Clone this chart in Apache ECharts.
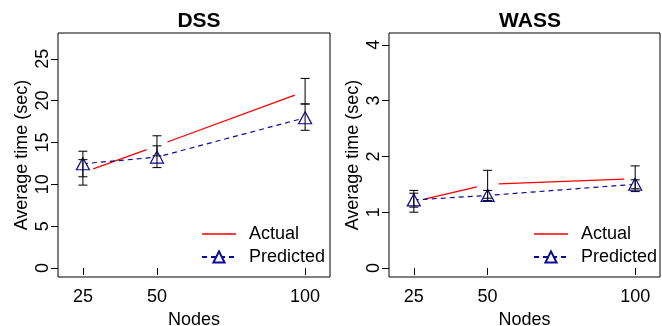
<!DOCTYPE html>
<html>
<head>
<meta charset="utf-8">
<script src="https://cdn.jsdelivr.net/npm/echarts@6/dist/echarts.min.js"></script>
<style>
  html, body { margin: 0; padding: 0; background: #fff; }
  #chart { width: 662px; height: 326px; }
</style>
</head>
<body>
<div id="chart"></div>
<script>
// data
const nodes = [25, 50, 100];

const dssActual = [11.4, 14.6, 21.1];
const dssActualLow = [9.9, 13.4, 19.6];
const dssActualHigh = [12.95, 15.8, 22.65];
const dssPred = [12.45, 13.25, 17.95];
const dssPredLow = [10.9, 12.0, 16.45];
const dssPredHigh = [13.95, 14.6, 19.6];

const wassActual = [1.19, 1.5, 1.6];
const wassActualLow = [1.0, 1.25, 1.37];
const wassActualHigh = [1.39, 1.75, 1.83];
const wassPred = [1.22, 1.3, 1.5];
const wassPredLow = [1.09, 1.21, 1.42];
const wassPredHigh = [1.34, 1.39, 1.58];

const dssTicks = [0, 5, 10, 15, 20, 25];
const wassTicks = [0, 1, 2, 3, 4];

const FONT = "'Liberation Sans', Arial, sans-serif";
const RED = "#ff0000";
const NAVY = "#0a0a9a";

const chart = echarts.init(document.getElementById("chart"), null, { renderer: "canvas" });

// segments of the actual line, stopping short of each point (like R type "b")
function gapLine(name, values, idx) {
    const pairs = nodes.slice(0, -1).map((x, i) => [x, values[i], nodes[i + 1], values[i + 1]]);
    return {
        name: name,
        type: "custom",
        xAxisIndex: idx,
        yAxisIndex: idx,
        z: 2,
        itemStyle: { color: RED },
        data: pairs,
        renderItem: function (params, api) {
            const a = api.coord([api.value(0), api.value(1)]);
            const b = api.coord([api.value(2), api.value(3)]);
            const dx = b[0] - a[0], dy = b[1] - a[1];
            const len = Math.sqrt(dx * dx + dy * dy);
            const gap = 11;
            const ux = dx / len, uy = dy / len;
            return {
                type: "line",
                shape: { x1: a[0] + ux * gap, y1: a[1] + uy * gap, x2: b[0] - ux * gap, y2: b[1] - uy * gap },
                style: { stroke: RED, lineWidth: 1.3 },
            };
        },
    };
}

function errorBars(low, high, idx) {
    return {
        type: "custom",
        xAxisIndex: idx,
        yAxisIndex: idx,
        z: 5,
        silent: true,
        data: nodes.map((x, i) => [x, low[i], high[i]]),
        renderItem: function (params, api) {
            const x = api.value(0);
            const lo = api.coord([x, api.value(1)]);
            const hi = api.coord([x, api.value(2)]);
            const w = 4.5;
            const st = { stroke: "#111", lineWidth: 1.1 };
            return {
                type: "group",
                children: [
                    { type: "line", shape: { x1: lo[0], y1: lo[1], x2: hi[0], y2: hi[1] }, style: st },
                    { type: "line", shape: { x1: lo[0] - w, y1: lo[1], x2: lo[0] + w, y2: lo[1] }, style: st },
                    { type: "line", shape: { x1: hi[0] - w, y1: hi[1], x2: hi[0] + w, y2: hi[1] }, style: st },
                ],
            };
        },
    };
}

function predLine(values, idx) {
    return {
        name: "Predicted",
        type: "line",
        xAxisIndex: idx,
        yAxisIndex: idx,
        z: 3,
        data: nodes.map((x, i) => [x, values[i]]),
        symbol: "triangle",
        symbolSize: [13, 12],
        lineStyle: { color: NAVY, width: 1.2, type: [5, 4] },
        itemStyle: { color: "#fff", borderColor: NAVY, borderWidth: 1.2 },
    };
}

function xAxis(idx) {
    return {
        gridIndex: idx,
        type: "value",
        min: 16.6,
        max: 108.4,
        axisLine: { show: false },
        splitLine: { show: false },
        axisTick: { customValues: nodes, length: 7, lineStyle: { color: "#000" } },
        axisLabel: { customValues: nodes, fontSize: 18, fontFamily: FONT, color: "#000", margin: 11 },
        name: "Nodes",
        nameLocation: "middle",
        nameGap: 34,
        nameTextStyle: { fontSize: 18, fontFamily: FONT, color: "#000" },
    };
}

function yAxis(idx, min, max, ticks) {
    return {
        gridIndex: idx,
        type: "value",
        min: min,
        max: max,
        axisLine: { show: false },
        splitLine: { show: false },
        axisTick: { customValues: ticks, length: 7, lineStyle: { color: "#000" } },
        axisLabel: { customValues: ticks, rotate: 90, fontSize: 18, fontFamily: FONT, color: "#000", margin: 6 },
        name: "Average time (sec)",
        nameLocation: "middle",
        nameGap: 27,
        nameTextStyle: { fontSize: 18, fontFamily: FONT, color: "#000" },
    };
}

function legend(left) {
    return {
        left: left,
        top: 220,
        orient: "vertical",
        itemWidth: 34,
        itemHeight: 14,
        itemGap: 5,
        textStyle: { fontSize: 18, fontFamily: FONT, color: "#000", padding: [0, 0, 0, 8] },
        data: [
            { name: "Actual", icon: "path://M0,0h34v1.3h-34z" },
            { name: "Predicted" },
        ],
    };
}

const option = {
    animation: false,
    backgroundColor: "#fff",
    title: [
        { text: "DSS", left: 194, top: 6, textAlign: "center", textStyle: { fontSize: 21, fontWeight: "bold", fontFamily: FONT, color: "#000" } },
        { text: "WASS", left: 525, top: 6, textAlign: "center", textStyle: { fontSize: 21, fontWeight: "bold", fontFamily: FONT, color: "#000" } },
    ],
    legend: [legend(196), legend(528)],
    grid: [
        { left: 58, top: 33, width: 272, height: 244, show: true, borderColor: "#000", borderWidth: 1, backgroundColor: "transparent", outerBoundsMode: "none" },
        { left: 389, top: 33, width: 271, height: 244, show: true, borderColor: "#000", borderWidth: 1, backgroundColor: "transparent", outerBoundsMode: "none" },
    ],
    xAxis: [xAxis(0), xAxis(1)],
    yAxis: [yAxis(0, -1.08, 28.08, dssTicks), yAxis(1, -0.162, 4.212, wassTicks)],
    series: [
        gapLine("Actual", dssActual, 0),
        predLine(dssPred, 0),
        errorBars(dssActualLow, dssActualHigh, 0),
        errorBars(dssPredLow, dssPredHigh, 0),
        gapLine("Actual", wassActual, 1),
        predLine(wassPred, 1),
        errorBars(wassActualLow, wassActualHigh, 1),
        errorBars(wassPredLow, wassPredHigh, 1),
    ],
};

chart.setOption(option);
</script>
</body>
</html>
